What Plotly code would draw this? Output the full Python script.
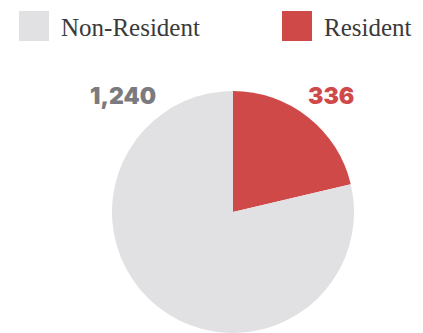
import plotly.graph_objects as go

categories = ["Non-Resident", "Resident"]
values = [1240, 336]
colors = ["#e1e1e3", "#d04949"]
label_colors = ["#7b7b7f", "#d04949"]

W, H = 423, 333
OFF = 8  # page body margin

def px(x):
    return (x - OFF) / W

def py(y):
    return 1 - (y - OFF) / H

fig = go.Figure(go.Pie(
    labels=categories[::-1],
    values=values[::-1],
    marker=dict(colors=colors[::-1], line=dict(width=0)),
    sort=False,
    direction="clockwise",
    rotation=0,
    textinfo="none",
    hoverinfo="label+value",
    showlegend=False,
    domain=dict(x=[px(112), px(354)], y=[py(333), py(91)]),
))

shapes = []
annotations = []
legend_sq_x = [19, 282]
for i, cat in enumerate(categories):
    x0 = legend_sq_x[i]
    shapes.append(dict(type="rect", xref="paper", yref="paper",
                       x0=px(x0), x1=px(x0 + 30), y0=py(41), y1=py(11),
                       fillcolor=colors[i], line=dict(width=0)))
    annotations.append(dict(text=cat, xref="paper", yref="paper",
                            x=px(x0 + 40), y=py(27), xanchor="left", yanchor="middle",
                            showarrow=False,
                            font=dict(family="Liberation Serif", size=25, color="#3a3a3a")))

label_x = [123, 331]
for i, v in enumerate(values):
    annotations.append(dict(text=f"{v:,}", xref="paper", yref="paper",
                            x=px(label_x[i]), y=py(96), xanchor="center", yanchor="middle",
                            showarrow=False,
                            font=dict(family="Inter", size=23, color=label_colors[i], weight=900)))

fig.update_layout(
    width=W, height=H,
    margin=dict(l=0, r=0, t=0, b=0),
    paper_bgcolor="white",
    plot_bgcolor="white",
    shapes=shapes,
    annotations=annotations,
)

fig.write_html("out.html")
